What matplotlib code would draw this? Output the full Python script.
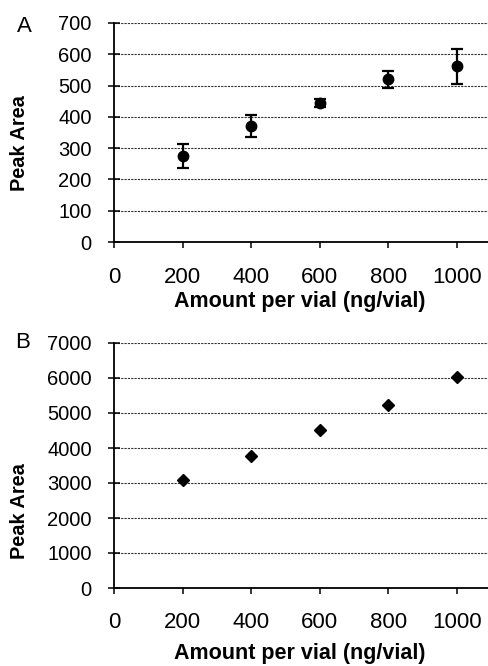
import matplotlib
matplotlib.use("Agg")
import matplotlib.pyplot as plt

plt.rcParams['font.family'] = ['Liberation Sans', 'DejaVu Sans']

# panel A: peak area with error bars
amount = [200, 400, 600, 800, 1000]
area_a = [275, 371, 443, 520, 561]
err_a = [38, 35, 13, 28, 56]

# panel B: peak area
area_b = [3100, 3760, 4510, 5230, 6020]

x_ticks = [0, 200, 400, 600, 800, 1000]
yticks_a = [0, 100, 200, 300, 400, 500, 600, 700]
yticks_b = [0, 1000, 2000, 3000, 4000, 5000, 6000, 7000]

W, H = 489, 666
fig = plt.figure(figsize=(W / 100, H / 100), dpi=100)


def px_axes(left, top, right, bottom):
    return fig.add_axes([left / W, 1 - bottom / H, (right - left) / W, (bottom - top) / H])


def style(ax, yticks, xpad):
    for s in ['top', 'right']:
        ax.spines[s].set_visible(False)
    for s in ['left', 'bottom']:
        ax.spines[s].set_linewidth(1.3)
    ax.set_xlim(0, 1093)
    ax.set_ylim(yticks[0], yticks[-1])
    ax.set_xticks(x_ticks)
    ax.set_yticks(yticks)
    ax.tick_params(axis='y', direction='inout', length=8, width=1.1, pad=12, labelsize=14.5)
    ax.tick_params(axis='x', direction='out', length=4, width=1.1, pad=xpad, labelsize=16)
    ax.grid(axis='y', linestyle=(0, (2, 1)), color='#333333', linewidth=0.8)
    ax.set_axisbelow(True)


ax1 = px_axes(114, 23, 489, 242)
style(ax1, yticks_a, 14)
ax1.errorbar(amount, area_a, yerr=err_a, fmt='o', color='black', markersize=7.5,
             elinewidth=1.6, capsize=4.5, capthick=1.6, clip_on=False)

ax2 = px_axes(114, 343, 489, 588)
style(ax2, yticks_b, 13)
ax2.plot(amount, area_b, 'D', color='black', markersize=6.5, clip_on=False)


def ftext(x, y, s, **kw):
    fig.text(x / W, 1 - y / H, s, ha='center', va='center', **kw)


ftext(24, 26, 'A', fontsize=16)
ftext(23, 343, 'B', fontsize=16)
ftext(20, 143, 'Peak Area', fontsize=14.4, fontweight='bold', rotation=90)
ftext(20, 511, 'Peak Area', fontsize=14.4, fontweight='bold', rotation=90)
ftext(300, 302, 'Amount per vial (ng/vial)', fontsize=15.5, fontweight='bold')
ftext(300, 653, 'Amount per vial (ng/vial)', fontsize=15.5, fontweight='bold')

fig.savefig('out.png', dpi=100)
